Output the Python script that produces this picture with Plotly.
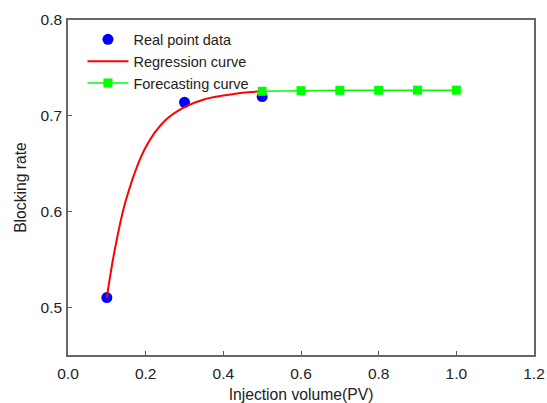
import plotly.graph_objects as go

# Real measured points
real_x = [0.1, 0.3, 0.5]
real_y = [0.510, 0.714, 0.720]

# Regression curve
reg_x = [0.10, 0.12, 0.15, 0.20, 0.25, 0.30, 0.35, 0.40, 0.45, 0.50]
reg_y = [0.510, 0.559, 0.613, 0.667, 0.695, 0.709, 0.717, 0.721, 0.724, 0.7255]

# Forecasting curve
fc_x = [0.5, 0.6, 0.7, 0.8, 0.9, 1.0]
fc_y = [0.7255, 0.7262, 0.7265, 0.7266, 0.7267, 0.7267]

x_ticks = [0.0, 0.2, 0.4, 0.6, 0.8, 1.0, 1.2]
y_ticks = [0.5, 0.6, 0.7, 0.8]

FONT = "Liberation Sans, Arial"

fig = go.Figure()
fig.add_trace(go.Scatter(x=real_x, y=real_y, mode="markers", name="Real point data",
                         marker=dict(color="#0000FF", size=11, symbol="circle")))
fig.add_trace(go.Scatter(x=reg_x, y=reg_y, mode="lines", name="Regression curve",
                         line=dict(color="#FF0000", width=2, shape="spline")))
fig.add_trace(go.Scatter(x=fc_x, y=fc_y, mode="lines+markers", name="Forecasting curve",
                         line=dict(color="#00FF00", width=1.5),
                         marker=dict(color="#00FF00", size=9, symbol="square")))

axis_common = dict(showgrid=False, zeroline=False, showline=True, mirror=True,
                   linecolor="#666666", linewidth=1.5, ticks="inside", ticklen=4,
                   tickcolor="#555555", automargin=False,
                   tickfont=dict(family=FONT, size=15.5, color="#222222"))

fig.update_layout(
    width=547, height=403,
    margin=dict(l=68, r=13, t=20, b=48),
    paper_bgcolor="white", plot_bgcolor="white",
    font=dict(family=FONT, color="#222222"),
    xaxis=dict(range=[0, 1.2], tickvals=x_ticks, ticktext=[f"{v:.1f}" for v in x_ticks],
               ticklabelstandoff=4,
               title=dict(text="Injection volume(PV)", font=dict(size=15.7), standoff=12),
               **axis_common),
    yaxis=dict(range=[0.45, 0.8], tickvals=y_ticks, ticktext=[f"{v:.1f}" for v in y_ticks],
               ticklabelstandoff=1,
               title=dict(text="Blocking rate", font=dict(size=15.7), standoff=10),
               **axis_common),
    legend=dict(x=0.031, y=0.99, xanchor="left", yanchor="top",
                bgcolor="rgba(0,0,0,0)", font=dict(family=FONT, size=14.5, color="#222222"),
                tracegroupgap=0, itemwidth=41),
    showlegend=True,
)

fig.write_html("out.html")
